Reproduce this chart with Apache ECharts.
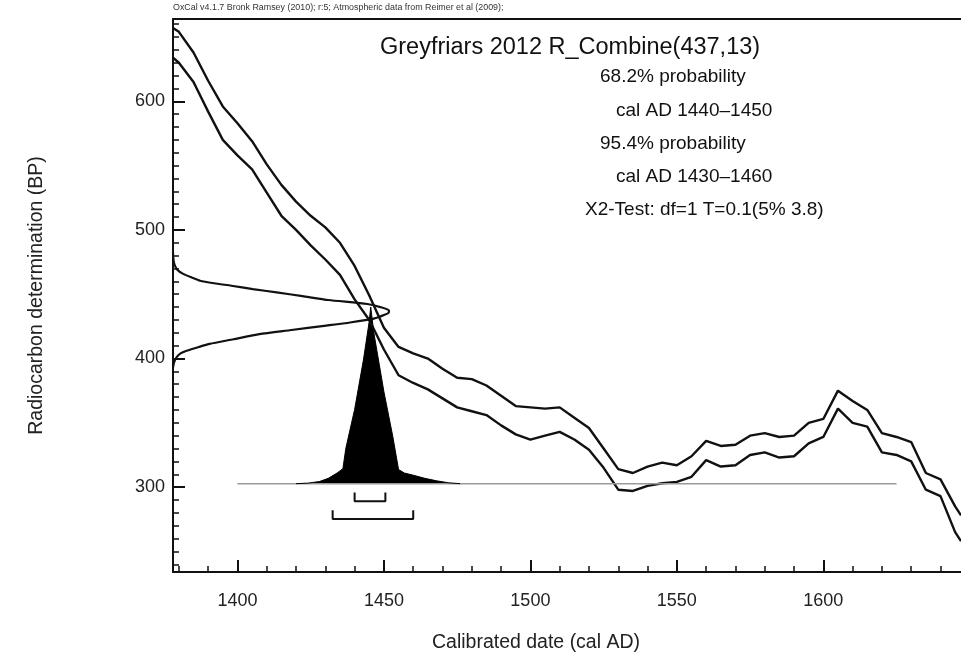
<!DOCTYPE html>
<html>
<head>
<meta charset="utf-8">
<script src="https://cdn.jsdelivr.net/npm/echarts@6/dist/echarts.min.js"></script>
<style>
  html, body { margin: 0; padding: 0; background: #fff; }
  #chart { width: 961px; height: 656px; }
</style>
</head>
<body>
<div id="chart"></div>
<script>
// calibration curve, 1 sigma envelope (BP)
const calYears = [1378, 1380, 1385, 1390, 1395, 1400, 1405, 1410, 1415, 1420, 1425, 1430, 1435, 1440, 1445, 1450, 1455, 1460, 1465, 1470, 1475, 1480, 1485, 1490, 1495, 1500, 1505, 1510, 1515, 1520, 1525, 1530, 1535, 1540, 1545, 1550, 1555, 1560, 1565, 1570, 1575, 1580, 1585, 1590, 1595, 1600, 1605, 1610, 1615, 1620, 1625, 1630, 1635, 1640, 1645, 1647]
const calUpper = [657, 654, 638, 616, 596, 583, 569, 551, 535, 522, 511, 502, 490, 472, 449, 424, 409, 404, 400, 392, 385, 384, 379, 371, 363, 362, 361, 362, 354, 346, 330, 314, 311, 316, 319, 317, 324, 336, 332, 333, 340, 342, 339, 340, 350, 353, 375, 367, 360, 342, 339, 335, 311, 306, 285, 278]
const calLower = [634, 630, 615, 592, 570, 558, 547, 529, 511, 500, 488, 477, 465, 446, 430, 407, 387, 381, 376, 369, 362, 359, 356, 348, 341, 337, 340, 343, 337, 329, 315, 298, 297, 301, 303, 304, 308, 321, 316, 317, 325, 327, 323, 324, 334, 339, 361, 350, 347, 327, 325, 320, 298, 293, 265, 258]

// R_Combine(437,13) on the radiocarbon axis (relative probability)
const c14Bp = [482.5, 477, 473, 469, 466, 463, 460.5, 458.5, 456.6, 454, 451.4, 448.5, 445.5, 442.4, 440, 437.5, 436, 434, 431, 428, 425.6, 422, 419, 415, 411.4, 409, 406, 404, 401, 397, 393]
const c14Prob = [0, 0.002, 0.007, 0.02, 0.045, 0.087, 0.125, 0.19, 0.27, 0.37, 0.48, 0.6, 0.72, 0.9, 0.96, 1.0, 1.0, 0.98, 0.93, 0.82, 0.71, 0.54, 0.40, 0.28, 0.17, 0.12, 0.063, 0.035, 0.017, 0.005, 0]

// calibrated date distribution (relative probability)
const calDateYears = [1420, 1424, 1428, 1431, 1434, 1436, 1437, 1440, 1443, 1445, 1445.5, 1446.5, 1450, 1453, 1455, 1457, 1460, 1464, 1468, 1472, 1476]
const calDateProb = [0, 0.003, 0.012, 0.03, 0.06, 0.085, 0.2, 0.42, 0.7, 0.92, 1.0, 0.86, 0.52, 0.27, 0.08, 0.06, 0.048, 0.03, 0.016, 0.005, 0]

const range68 = [1440, 1450.5]
const range95 = [1432.5, 1460]
const baseRange = [1400, 1625]

const xTicks = [1400, 1450, 1500, 1550, 1600]
const xMinor = [1380, 1390, 1410, 1420, 1430, 1440, 1460, 1470, 1480, 1490, 1510, 1520, 1530, 1540, 1560, 1570, 1580, 1590, 1610, 1620, 1630, 1640]
const yTicks = [300, 400, 500, 600]
const yMinor = [240, 250, 260, 270, 280, 290, 310, 320, 330, 340, 350, 360, 370, 380, 390, 410, 420, 430, 440, 450, 460, 470, 480, 490, 510, 520, 530, 540, 550, 560, 570, 580, 590, 610, 620, 630, 640, 650, 660]

const infoLines = [
  { text: '68.2% probability', x: 600, y: 77 },
  { text: 'cal AD 1440\u20131450', x: 616, y: 111 },
  { text: '95.4% probability', x: 600, y: 144 },
  { text: 'cal AD 1430\u20131460', x: 616, y: 177 },
  { text: 'X2-Test: df=1 T=0.1(5% 3.8)', x: 585, y: 210 }
]

const FONT = 'Liberation Sans, Arial, sans-serif'
const INK = '#111'

const zip = (a, b) => a.map((v, i) => [v, b[i]])

const bracket = (r, top, bottom) => [[r[0], top], [r[0], bottom], [r[1], bottom], [r[1], top]]

const chart = echarts.init(document.getElementById('chart'))

const xBase = { type: 'value', min: 1378, max: 1647, splitLine: { show: false } }
const yBase = { type: 'value', min: 234, max: 664, splitLine: { show: false } }

const option = {
  backgroundColor: '#fff',
  animation: false,
  grid: { left: 173, right: 0, top: 19, bottom: 84 },
  xAxis: [
    {
      ...xBase,
      position: 'bottom',
      axisLine: { onZero: false, lineStyle: { color: INK, width: 2 } },
      axisTick: { inside: true, length: 12, customValues: xTicks, lineStyle: { color: INK, width: 2 } },
      axisLabel: { customValues: xTicks, margin: 20, color: '#222', fontSize: 18, fontFamily: FONT, formatter: v => String(v) }
    },
    {
      ...xBase,
      position: 'bottom',
      axisLine: { show: false, onZero: false },
      axisTick: { inside: true, length: 6, customValues: xMinor, lineStyle: { color: INK, width: 1.5 } },
      axisLabel: { show: false }
    },
    {
      ...xBase,
      position: 'top',
      axisLine: { onZero: false, lineStyle: { color: INK, width: 2 } },
      axisTick: { show: false },
      axisLabel: { show: false }
    },
    { type: 'value', show: false, min: 0, max: 3.65, axisLine: { onZero: false } }
  ],
  yAxis: [
    {
      ...yBase,
      position: 'left',
      name: 'Radiocarbon determination (BP)',
      nameLocation: 'middle',
      nameGap: 126,
      nameTextStyle: { color: '#222', fontSize: 19.5, fontFamily: FONT },
      axisLine: { onZero: false, lineStyle: { color: INK, width: 2 } },
      axisTick: { inside: true, length: 12, customValues: yTicks, lineStyle: { color: INK, width: 2 } },
      axisLabel: { customValues: yTicks, margin: 8, color: '#222', fontSize: 18, fontFamily: FONT }
    },
    {
      ...yBase,
      position: 'left',
      axisLine: { show: false, onZero: false },
      axisTick: { inside: true, length: 6, customValues: yMinor, lineStyle: { color: INK, width: 1.5 } },
      axisLabel: { show: false }
    },
    { type: 'value', show: false, min: -0.5, max: 2.63, axisLine: { onZero: false } }
  ],
  graphic: [
    { type: 'text', x: 173, y: 8, style: { text: 'OxCal v4.1.7 Bronk Ramsey (2010); r:5; Atmospheric data from Reimer et al (2009);', fill: '#333', font: '8.9px ' + FONT, verticalAlign: 'middle' } },
    { type: 'text', x: 380, y: 48, style: { text: 'Greyfriars 2012 R_Combine(437,13)', fill: '#111', font: '23.5px ' + FONT, verticalAlign: 'middle' } },
    ...infoLines.map(l => ({ type: 'text', x: l.x, y: l.y, style: { text: l.text, fill: '#111', font: '19px ' + FONT, verticalAlign: 'middle' } })),
    { type: 'text', x: 536, y: 643, style: { text: 'Calibrated date (cal AD)', fill: '#222', font: '19.5px ' + FONT, align: 'center', verticalAlign: 'middle' } }
  ],
  series: [
    {
      name: 'upper', type: 'line', xAxisIndex: 0, yAxisIndex: 0, symbol: 'none',
      lineStyle: { color: INK, width: 2.4 }, data: zip(calYears, calUpper)
    },
    {
      name: 'lower', type: 'line', xAxisIndex: 0, yAxisIndex: 0, symbol: 'none',
      lineStyle: { color: INK, width: 2.4 }, data: zip(calYears, calLower)
    },
    {
      name: 'c14', type: 'line', xAxisIndex: 3, yAxisIndex: 0, symbol: 'none', smooth: 0.2,
      lineStyle: { color: INK, width: 2.2 }, data: zip(c14Prob, c14Bp)
    },
    {
      name: 'baseline', type: 'line', xAxisIndex: 0, yAxisIndex: 2, symbol: 'none',
      lineStyle: { color: '#9a9a9a', width: 1.5 }, data: baseRange.map(v => [v, 0])
    },
    {
      name: 'calibrated', type: 'line', xAxisIndex: 0, yAxisIndex: 2, symbol: 'none',
      lineStyle: { color: '#000', width: 1 },
      areaStyle: { color: '#000', opacity: 1, origin: 'auto' },
      data: zip(calDateYears, calDateProb)
    },
    {
      name: 'r68', type: 'line', xAxisIndex: 0, yAxisIndex: 2, symbol: 'none',
      lineStyle: { color: INK, width: 2 }, data: bracket(range68, -0.05, -0.1)
    },
    {
      name: 'r95', type: 'line', xAxisIndex: 0, yAxisIndex: 2, symbol: 'none',
      lineStyle: { color: INK, width: 2 }, data: bracket(range95, -0.15, -0.2)
    }
  ]
}

chart.setOption(option)
</script>
</body>
</html>
